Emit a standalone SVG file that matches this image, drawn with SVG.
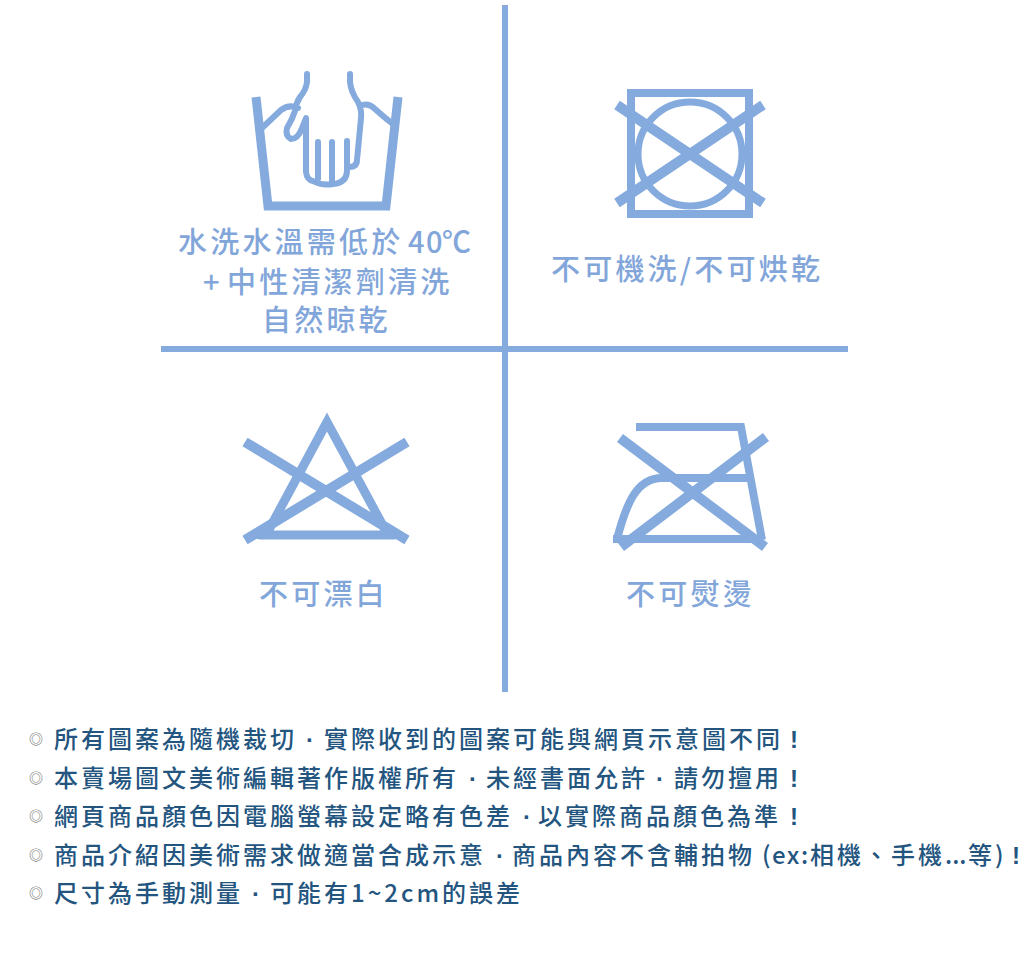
<svg xmlns="http://www.w3.org/2000/svg" width="1024" height="973" viewBox="0 0 1024 973">
<style>
.s{fill:none;stroke:#85abde}
.l{font-family:"Noto Sans CJK TC","Noto Sans",sans-serif;font-size:29px;font-weight:500;fill:#82a6da;letter-spacing:3.2px}
.t{font-family:"Noto Sans CJK TC","Noto Sans",sans-serif;font-size:24px;font-weight:500;fill:#23557f;letter-spacing:3px}
.d{font-family:"Liberation Sans",sans-serif;letter-spacing:0;font-weight:700}
.n{letter-spacing:1.5px}
.b{font-family:"Noto Sans CJK TC","Noto Sans",sans-serif;font-size:14px;font-weight:700;fill:#808080;text-anchor:middle}
</style>
<rect width="1024" height="973" fill="#fff"/>
<g id="dividers" class="s" stroke-width="6">
<path d="M505 5V692M161 349H848"/>
</g>
<g id="wash">
<path class="s" stroke-width="9" d="M256 97L268 206H386L398 97"/>
<path class="s" stroke-width="6" stroke-linecap="round" stroke-linejoin="round" d="M262 128L281 110Q289 104 298 108M307 74L307 82Q306 90 300 97Q296 103 295 111Q292 120 287 128Q285 136 291 139Q298 139 302 128L306 118V172Q307 180 313 181Q322 186 333 184Q347 183 347 170V141M318 142V179M332 142V182M350 74V82Q351 92 358 102Q362 110 361 118L357 160Q357 167 349 167M360 106Q368 102 375 109Q385 118 393 124"/>
<text class="l" y="253"><tspan x="178">水洗水溫需低於</tspan><tspan x="408" class="n">40</tspan><tspan x="442" letter-spacing="0">℃</tspan></text>
<text class="l" y="293"><tspan x="203">+</tspan><tspan x="227">中性清潔劑清洗</tspan></text>
<text class="l" x="262" y="331">自然晾乾</text>
</g>
<g id="no-wash-no-dry">
<rect class="s" stroke-width="8" x="631" y="93" width="118" height="121"/>
<circle class="s" stroke-width="7" cx="690" cy="154" r="52"/>
<path class="s" stroke-width="10" d="M617 105L763 203M763 105L617 203"/>
<text class="l" x="551" y="280">不可機洗/不可烘乾</text>
</g>
<g id="no-bleach">
<path class="s" stroke-width="9" d="M327 422L266 535H388Z"/>
<path class="s" stroke-width="8" d="M255 535H398"/>
<path class="s" stroke-width="10" d="M245 442L407 540M407 442L245 540"/>
<text class="l" x="259" y="605">不可漂白</text>
</g>
<g id="no-iron">
<path class="s" stroke-width="8" d="M636 427H741L762 540M613 539H763M617 539C626 505 636 478 662 478H747"/>
<path class="s" stroke-width="10" d="M620 438L765 547M766 437L621 547"/>
<text class="l" x="626" y="605">不可熨燙</text>
</g>
<g id="notes">
<text class="b" x="36" y="744">◎</text>
<text class="t" y="748"><tspan x="54">所有圖案為隨機裁切</tspan><tspan x="306" class="d">·</tspan><tspan x="324">實際收到的圖案可能與網頁示意圖不同</tspan><tspan x="790" class="d">!</tspan></text>
<text class="b" x="36" y="783">◎</text>
<text class="t" y="787"><tspan x="54">本賣場圖文美術編輯著作版權所有</tspan><tspan x="469" class="d">·</tspan><tspan x="486">未經書面允許</tspan><tspan x="656" class="d">·</tspan><tspan x="674">請勿擅用</tspan><tspan x="790" class="d">!</tspan></text>
<text class="b" x="36" y="821">◎</text>
<text class="t" y="825"><tspan x="54">網頁商品顏色因電腦螢幕設定略有色差</tspan><tspan x="523" class="d">·</tspan><tspan x="538">以實際商品顏色為準</tspan><tspan x="790" class="d">!</tspan></text>
<text class="b" x="36" y="860">◎</text>
<text class="t" y="864"><tspan x="54">商品介紹因美術需求做適當合成示意</tspan><tspan x="496" class="d">·</tspan><tspan x="512">商品內容不含輔拍物</tspan><tspan x="762" class="n">(ex:</tspan><tspan x="810">相機、手機</tspan><tspan x="945" letter-spacing="0">...</tspan><tspan x="968">等</tspan><tspan x="995" class="n">)</tspan><tspan x="1012" class="d">!</tspan></text>
<text class="b" x="36" y="898">◎</text>
<text class="t" y="902"><tspan x="54">尺寸為手動測量</tspan><tspan x="252" class="d">·</tspan><tspan x="270">可能有1~2cm的誤差</tspan></text>
</g>
</svg>
